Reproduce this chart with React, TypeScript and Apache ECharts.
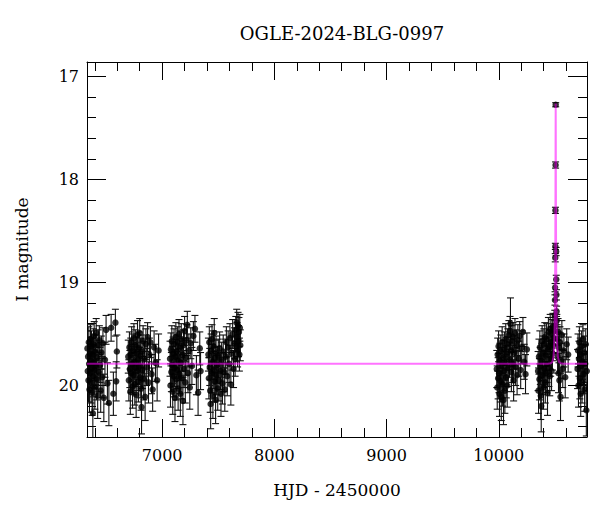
import React, { useEffect, useRef } from 'react';
import * as echarts from 'echarts';

type Obs = [number, number, number]; // [HJD-2450000, I mag, error]

const xMin = 6330;
const xMax = 10786;
const yMin = 16.86;
const yMax = 20.5;

const season2013: Obs[] = [
  [6334,19.64,0.17],[6337,19.86,0.19],[6340,19.72,0.16],[6343,19.95,0.21],[6346,19.58,0.15],[6349,19.79,0.17],
  [6352,20.04,0.22],[6355,19.69,0.16],[6358,19.88,0.19],[6361,19.55,0.14],[6364,19.76,0.17],[6367,19.97,0.2],
  [6370,19.62,0.15],[6373,19.83,0.18],[6376,20.07,0.22],[6379,19.70,0.16],[6382,20.27,0.25],[6385,19.91,0.2],
  [6388,19.60,0.15],[6391,19.78,0.17],[6394,19.52,0.14],[6397,19.85,0.18],[6400,20.02,0.21],[6404,19.67,0.16],
  [6408,19.81,0.18],[6412,19.49,0.14],[6416,19.94,0.2],[6420,19.73,0.17],[6425,20.10,0.22],[6430,19.61,0.15],
  [6435,19.87,0.19],[6440,19.56,0.14],[6446,19.80,0.17],[6452,20.05,0.21],[6458,19.68,0.16],[6465,19.92,0.2],
  [6472,19.59,0.15],[6480,20.12,0.23],[6490,19.75,0.17],[6500,19.46,0.14],[6512,19.98,0.2],[6525,20.17,0.22],
  [6545,19.44,0.13],[6565,20.08,0.21],[6583,19.39,0.13],[6590,19.96,0.19],[6596,19.67,0.16],
];

const season2014: Obs[] = [
  [6698,19.72,0.16],[6703,19.95,0.2],[6708,19.63,0.15],[6712,19.84,0.18],[6716,20.06,0.22],[6720,19.70,0.16],
  [6724,19.88,0.19],[6728,19.58,0.15],[6732,19.79,0.17],[6736,20.01,0.21],[6740,19.66,0.16],[6744,19.90,0.19],
  [6748,19.54,0.14],[6752,19.77,0.17],[6756,19.99,0.2],[6760,19.61,0.15],[6764,19.83,0.18],[6768,20.09,0.22],
  [6772,19.69,0.16],[6776,19.86,0.19],[6780,19.51,0.14],[6784,19.75,0.17],[6788,19.96,0.2],[6792,19.64,0.16],
  [6796,19.81,0.18],[6800,19.49,0.14],[6804,19.92,0.2],[6808,19.71,0.17],[6812,20.03,0.21],[6816,20.21,0.26],
  [6820,19.67,0.16],[6825,19.85,0.18],[6830,19.57,0.15],[6836,19.94,0.2],[6842,19.74,0.17],[6848,20.11,0.23],
  [6855,19.60,0.15],[6862,19.82,0.18],[6870,19.53,0.14],[6878,19.97,0.2],[6886,19.70,0.16],[6895,19.58,0.15],
  [6905,19.89,0.19],[6915,20.04,0.21],[6928,19.63,0.16],[6940,19.78,0.18],[6955,19.95,0.2],[6968,19.66,0.16],
];

const season2015: Obs[] = [
  [7070,19.74,0.17],[7074,20.00,0.21],[7078,19.65,0.16],[7082,19.87,0.19],[7086,19.57,0.15],[7090,19.80,0.18],
  [7094,20.06,0.22],[7098,19.69,0.16],[7102,19.91,0.2],[7106,19.60,0.15],[7110,19.83,0.18],[7114,20.12,0.23],
  [7118,19.72,0.17],[7122,19.53,0.14],[7126,19.94,0.2],[7130,19.67,0.16],[7134,19.85,0.18],[7138,19.58,0.15],
  [7142,20.03,0.21],[7146,19.76,0.17],[7150,19.50,0.14],[7154,19.89,0.19],[7158,19.63,0.16],[7162,20.08,0.22],
  [7166,19.78,0.17],[7170,19.55,0.15],[7175,19.93,0.2],[7180,19.70,0.16],[7185,20.15,0.23],[7190,19.61,0.15],
  [7195,19.84,0.18],[7200,19.47,0.14],[7206,19.97,0.2],[7212,19.73,0.17],[7218,19.56,0.15],[7224,19.41,0.13],
  [7230,19.88,0.19],[7238,19.66,0.16],[7246,20.02,0.21],[7255,19.59,0.15],[7265,19.81,0.18],[7278,19.52,0.14],
  [7292,19.45,0.13],[7305,19.90,0.19],[7320,20.07,0.22],[7335,19.64,0.16],[7342,19.86,0.18],
];

const season2016: Obs[] = [
  [7412,19.70,0.16],[7416,19.93,0.2],[7420,19.58,0.15],[7424,19.82,0.18],[7428,20.05,0.21],[7432,20.18,0.24],
  [7436,19.66,0.16],[7440,19.88,0.19],[7444,19.55,0.14],[7448,19.77,0.17],[7452,20.10,0.22],[7456,19.62,0.15],
  [7460,19.85,0.18],[7464,19.49,0.14],[7468,19.96,0.2],[7472,19.73,0.17],[7476,20.14,0.23],[7480,19.68,0.16],
  [7485,19.90,0.19],[7490,19.80,0.18],[7495,20.03,0.21],[7500,19.71,0.16],[7506,19.95,0.2],[7512,19.64,0.16],
  [7518,19.86,0.18],[7524,20.08,0.22],[7530,19.75,0.17],[7537,19.98,0.2],[7544,19.67,0.16],[7551,19.87,0.19],
  [7558,20.04,0.21],[7565,19.72,0.17],[7572,19.58,0.15],[7580,19.91,0.19],[7588,19.63,0.16],[7596,19.79,0.18],
  [7604,19.54,0.14],[7612,19.99,0.2],[7620,19.69,0.16],[7628,19.50,0.14],[7636,19.84,0.18],[7644,19.59,0.15],
  [7650,19.74,0.17],[7656,19.46,0.13],[7660,19.62,0.15],[7664,19.39,0.13],[7668,19.53,0.14],[7672,19.66,0.16],
  [7676,19.42,0.13],[7680,19.57,0.15],[7684,19.48,0.14],[7688,19.70,0.16],[7692,19.44,0.13],[7696,19.61,0.15],
];

const season2023: Obs[] = [
  [9982,19.84,0.18],[9986,20.02,0.21],[9990,19.70,0.16],[9994,19.93,0.2],[9998,19.62,0.15],[10002,19.88,0.19],
  [10006,20.08,0.22],[10010,19.76,0.17],[10014,19.96,0.2],[10018,19.67,0.16],[10022,20.11,0.23],[10026,19.81,0.18],
  [10030,19.58,0.15],[10034,19.99,0.21],[10038,19.73,0.17],[10042,20.14,0.24],[10046,19.86,0.19],[10050,19.64,0.16],
  [10054,20.05,0.22],[10058,19.78,0.17],[10062,19.55,0.15],[10066,19.92,0.2],[10070,19.69,0.16],[10075,20.00,0.21],
  [10080,19.60,0.15],[10085,19.83,0.18],[10090,19.51,0.14],[10095,19.75,0.17],[10100,19.47,0.14],[10104,19.40,0.25],
  [10108,19.66,0.16],[10112,19.87,0.19],[10117,19.57,0.15],[10122,19.79,0.18],[10127,19.53,0.14],[10132,19.95,0.2],
  [10138,19.68,0.16],[10144,19.49,0.14],[10150,19.82,0.18],[10156,19.61,0.15],[10163,19.90,0.19],[10170,19.56,0.15],
  [10178,19.74,0.17],[10186,19.52,0.14],[10195,19.85,0.18],[10205,19.63,0.16],[10215,19.48,0.14],[10226,19.77,0.17],
  [10238,19.89,0.19],[10250,19.65,0.16],
];

const season2024: Obs[] = [
  [10350,19.86,0.19],[10354,20.05,0.22],[10358,19.72,0.17],[10362,19.94,0.2],[10366,19.63,0.16],[10370,19.81,0.18],
  [10374,20.10,0.23],[10378,20.20,0.25],[10382,19.76,0.17],[10386,19.57,0.15],[10390,19.90,0.19],[10394,19.68,0.16],
  [10398,20.02,0.21],[10402,19.60,0.15],[10406,19.84,0.18],[10410,19.53,0.14],[10414,19.97,0.2],[10418,19.71,0.17],
  [10422,19.88,0.19],[10426,19.55,0.15],[10430,19.79,0.18],[10434,20.07,0.22],[10438,19.65,0.16],[10442,19.48,0.14],
  [10446,19.83,0.18],[10450,19.62,0.16],[10454,19.91,0.19],[10458,19.45,0.14],[10462,19.74,0.17],[10466,19.58,0.15],
  [10470,19.86,0.19],[10474,19.50,0.14],[10478,19.69,0.16],[10482,19.43,0.13],[10486,19.61,0.15],[10490,19.54,0.14],
  [10494,19.47,0.13],
  [10520,19.55,0.14],[10524,19.72,0.16],[10528,19.48,0.13],[10532,19.88,0.19],[10536,19.63,0.15],[10540,19.95,0.2],
  [10545,19.58,0.15],[10550,20.11,0.23],[10556,19.76,0.17],[10562,19.51,0.14],[10570,19.84,0.18],[10580,19.66,0.16],
  [10592,19.92,0.2],[10605,19.60,0.15],[10618,19.70,0.17],
];

const peak2024: Obs[] = [
  [10497.5,19.42,0.06],[10499,19.32,0.05],[10500.5,19.17,0.05],[10501.5,19.05,0.04],[10503,18.76,0.04],
  [10504,18.65,0.03],[10504.7,18.30,0.03],[10506,17.86,0.03],[10507,17.275,0.02],[10511,18.70,0.04],
  [10512,18.97,0.04],[10513.5,19.12,0.05],[10515,19.28,0.05],[10517,19.37,0.06],
];

const season2025: Obs[] = [
  [10702,19.84,0.19],[10706,19.66,0.16],[10710,20.00,0.21],[10714,19.74,0.17],[10718,19.58,0.15],[10722,19.93,0.2],
  [10726,19.70,0.16],[10730,20.08,0.22],[10734,19.81,0.18],[10738,19.62,0.15],[10742,19.97,0.2],[10746,19.77,0.17],
  [10750,19.55,0.14],[10755,19.89,0.19],[10760,19.68,0.16],[10765,20.04,0.21],[10770,19.79,0.18],[10775,19.60,0.15],
  [10780,20.24,0.25],[10784,19.86,0.19],
];

// microlensing model curve (HJD, I mag), tabulated
const modelT = [6330, 10437, 10462, 10477, 10487, 10493, 10497, 10500, 10502, 10503, 10504, 10505, 10506, 10507,
  10508, 10509, 10510, 10511, 10512, 10514, 10517, 10521, 10527, 10537, 10552, 10577, 10786];
const modelMag = [19.79, 19.79, 19.785, 19.772, 19.726, 19.631, 19.474, 19.235, 18.96, 18.76, 18.50, 18.14, 17.65, 17.264,
  17.65, 18.14, 18.50, 18.76, 18.96, 19.235, 19.474, 19.631, 19.726, 19.772, 19.785, 19.79, 19.79];

const FONT = 'DejaVu Serif';

export default function App() {
  const ref = useRef<HTMLDivElement>(null);
  useEffect(() => {
    document.body.style.margin = '0';
    const chart = echarts.init(ref.current!, null, { renderer: 'svg' });
    const obs: Obs[] = [
      ...season2013, ...season2014, ...season2015, ...season2016,
      ...season2023, ...season2024, ...peak2024, ...season2025,
    ];
    const black = { color: '#000', width: 1 };
    const xCommon = {
      type: 'value', min: xMin, max: xMax, splitNumber: 5,
      axisLine: { show: true, onZero: false, lineStyle: black },
      axisTick: { show: true, inside: true, length: 18, lineStyle: black },
      minorTick: { show: true, splitNumber: 5, length: 9, lineStyle: black },
      splitLine: { show: false },
    };
    const yCommon = {
      type: 'value', min: yMin, max: yMax, inverse: true, splitNumber: 4,
      axisLine: { show: true, onZero: false, lineStyle: black },
      axisTick: { show: true, inside: true, length: 19, lineStyle: black },
      minorTick: { show: true, splitNumber: 5, length: 9, lineStyle: black },
      splitLine: { show: false },
    };
    const isInt = (v: number, step: number) => Math.abs(v / step - Math.round(v / step)) < 1e-6;
    chart.setOption({
      animation: false,
      backgroundColor: '#fff',
      tooltip: { show: false },
      title: {
        text: 'OGLE-2024-BLG-0997', left: 337, top: 19, textAlign: 'center',
        textStyle: { fontFamily: FONT, fontSize: 18, fontWeight: 'normal', color: '#000' },
      },
      grid: { left: 87, right: 13, top: 62, bottom: 75, outerBoundsMode: 'none' },
      xAxis: [
        {
          ...xCommon, position: 'bottom',
          axisLabel: {
            margin: 10, fontFamily: FONT, fontSize: 16, color: '#000',
            showMinLabel: false, showMaxLabel: false,
            formatter: (v: number) => (isInt(v, 1000) ? String(Math.round(v)) : ''),
          },
          name: 'HJD - 2450000', nameLocation: 'middle', nameGap: 44,
          nameTextStyle: { fontFamily: FONT, fontSize: 17, color: '#000' },
        },
        { ...xCommon, position: 'top', axisLabel: { show: false } },
      ],
      yAxis: [
        {
          ...yCommon, position: 'left',
          axisLabel: {
            margin: 8, fontFamily: FONT, fontSize: 16, color: '#000',
            showMinLabel: false, showMaxLabel: false,
            formatter: (v: number) => (isInt(v, 1) ? String(Math.round(v)) : ''),
          },
          name: 'I magnitude', nameLocation: 'middle', nameGap: 57, nameRotate: 90,
          nameTextStyle: { fontFamily: FONT, fontSize: 17, color: '#000' },
        },
        { ...yCommon, position: 'right', axisLabel: { show: false } },
      ],
      series: [
        {
          type: 'custom', xAxisIndex: 0, yAxisIndex: 0, clip: true, silent: true, z: 2,
          data: obs,
          encode: { x: 0, y: 1 },
          renderItem: (_p: any, api: any) => {
            const x = api.value(0), y = api.value(1), e = api.value(2);
            const a = api.coord([x, y - e]);
            const b = api.coord([x, y + e]);
            const hw = 3.5;
            const st = { stroke: '#111', lineWidth: 1.1 };
            return {
              type: 'group',
              children: [
                { type: 'line', shape: { x1: a[0], y1: a[1], x2: b[0], y2: b[1] }, style: st },
                { type: 'line', shape: { x1: a[0] - hw, y1: a[1], x2: a[0] + hw, y2: a[1] }, style: st },
                { type: 'line', shape: { x1: b[0] - hw, y1: b[1], x2: b[0] + hw, y2: b[1] }, style: st },
              ],
            };
          },
        },
        {
          type: 'scatter', xAxisIndex: 0, yAxisIndex: 0, silent: true, z: 3, clip: true,
          symbol: 'circle', symbolSize: 6.5,
          itemStyle: { color: '#000' },
          data: obs.map((d) => [d[0], d[1]]),
        },
        {
          type: 'line', xAxisIndex: 0, yAxisIndex: 0, silent: true, z: 4, clip: true,
          showSymbol: false, symbol: 'none',
          lineStyle: { color: 'rgba(255,0,255,0.55)', width: 2 },
          data: modelT.map((t, i) => [t, modelMag[i]]),
        },
      ],
    });
    return () => chart.dispose();
  }, []);
  return <div ref={ref} style={{ width: 600, height: 512 }} />;
}
